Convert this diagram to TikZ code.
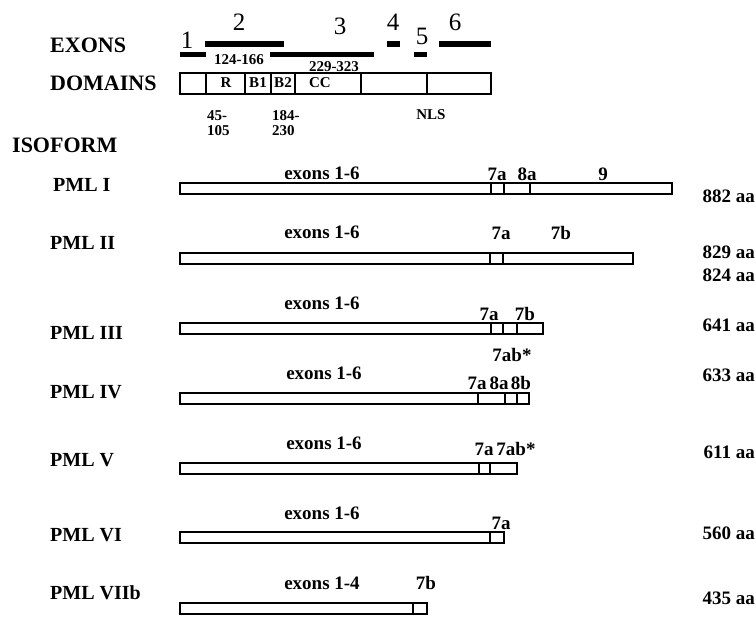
\documentclass[tikz,border=0pt]{standalone}
\usepackage{fontspec}
\setmainfont{Liberation Serif}
\newcommand{\isoformbar}[4]{% #1 name, #2 top y, #3 right x, #4 dividers
  \draw[isobox] (180,#2) rectangle (#3,#2+10.5);
  \coordinate (#1) at (180,#2);
  \foreach \d in {#4} {\draw[divider] (\d,#2) -- (\d,#2+10.5);}
}
\begin{document}
\begin{tikzpicture}[x=1pt,y=-1pt,
  lbl/.style={inner sep=0pt, font=\bfseries\fontsize{19}{19}\selectfont},
  rlbl/.style={lbl, anchor=east},
  head/.style={inner sep=0pt, anchor=west, font=\bfseries\fontsize{22}{22}\selectfont},
  pml/.style={inner sep=0pt, anchor=west, font=\bfseries\fontsize{20}{20}\selectfont},
  num/.style={inner sep=0pt, font=\fontsize{25}{25}\selectfont},
  small/.style={inner sep=0pt, font=\bfseries\fontsize{15}{15}\selectfont},
  exonbar/.style={line width=5.5pt},
  isobox/.style={draw, line width=2pt},
  divider/.style={line width=2.2pt},
  dombox/.style={draw, line width=2pt},
]
\useasboundingbox (0,0) rectangle (756,619);

% headings
\node[head] (exons) at (50,45) {EXONS};
\node[head] (domains) at (50,83) {DOMAINS};
\node[head] (isoform) at (12,145) {ISOFORM};

% exon bars
\draw[exonbar] (180,54.5) -- (206,54.5);
\draw[exonbar] (205,44) -- (284,44);
\draw[exonbar] (270,54.5) -- (374,54.5);
\draw[exonbar] (387,44) -- (400,44);
\draw[exonbar] (414,54.5) -- (427,54.5);
\draw[exonbar] (439,44) -- (491,44);
\node[num] (n1) at (187,40) {1};
\node[num] (n2) at (239,22) {2};
\node[num] (n3) at (340,26) {3};
\node[num] (n4) at (393,22) {4};
\node[num] (n5) at (422,36) {5};
\node[num] (n6) at (455,22) {6};

% domains
\draw[dombox] (180,73) rectangle (491,94);
\foreach \d in {206,245,271,295,361,427} {\draw[line width=1.8pt] (\d,73) -- (\d,94);}
\node[small] (dR) at (226,83) {R};
\node[small] (dB1) at (258,83) {B1};
\node[small] (dB2) at (283,83) {B2};
\node[small] (dCC) at (320,83) {CC};
\node[small] (r124) at (239,60) {124-166};
\node[small] (r229) at (334,67) {229-323};
\node[small, anchor=west] (r45) at (207,116) {45-};
\node[small, anchor=west] (r105) at (207,131) {105};
\node[small, anchor=west] (r184) at (272,116) {184-};
\node[small, anchor=west] (r230) at (272,131) {230};
\node[small] (nls) at (431,115) {NLS};

% PML I
\node[pml] (p1) at (53,185) {PML I};
\isoformbar{b1}{183}{672}{491,504,530}
\node[lbl] (e1) at (322,173) {exons 1-6};
\node[lbl] (x1a) at (497,174) {7a};
\node[lbl] (x1b) at (527,174) {8a};
\node[lbl] (x1c) at (603,174) {9};
\node[rlbl] (aa1) at (755,196) {882 aa};

% PML II
\node[pml] (p2) at (50,243) {PML II};
\isoformbar{b2}{253}{633}{490,503}
\node[lbl] (e2) at (322,232) {exons 1-6};
\node[lbl] (x2a) at (501,233) {7a};
\node[lbl] (x2b) at (561,233) {7b};
\node[rlbl] (aa2) at (755,252) {829 aa};
\node[rlbl] (aa2b) at (755,275) {824 aa};

% PML III
\node[pml] (p3) at (50,333) {PML III};
\isoformbar{b3}{323}{543}{491,503,517}
\node[lbl] (e3) at (322,303) {exons 1-6};
\node[lbl] (x3a) at (489,314) {7a};
\node[lbl] (x3b) at (525,314) {7b};
\node[lbl] (x3c) at (512,355) {7ab*};
\node[rlbl] (aa3) at (755,325) {641 aa};

% PML IV
\node[pml] (p4) at (50,392) {PML IV};
\isoformbar{b4}{393}{529}{478,505,517}
\node[lbl] (e4) at (324,373) {exons 1-6};
\node[lbl] (x4a) at (477,383) {7a};
\node[lbl] (x4b) at (499,383) {8a};
\node[lbl] (x4c) at (521,383) {8b};
\node[rlbl] (aa4) at (755,375) {633 aa};

% PML V
\node[pml] (p5) at (50,460) {PML V};
\isoformbar{b5}{463}{517}{479,490}
\node[lbl] (e5) at (324,443) {exons 1-6};
\node[lbl] (x5a) at (484,449) {7a};
\node[lbl] (x5b) at (516,449) {7ab*};
\node[rlbl] (aa5) at (755,452) {611 aa};

% PML VI
\node[pml] (p6) at (50,535) {PML VI};
\isoformbar{b6}{532}{504}{490}
\node[lbl] (e6) at (322,513) {exons 1-6};
\node[lbl] (x6a) at (501,523) {7a};
\node[rlbl] (aa6) at (755,533) {560 aa};

% PML VIIb
\node[pml] (p7) at (50,593) {PML VIIb};
\isoformbar{b7}{603}{427}{413}
\node[lbl] (e7) at (322,583) {exons 1-4};
\node[lbl] (x7a) at (426,583) {7b};
\node[rlbl] (aa7) at (755,598) {435 aa};
\end{tikzpicture}
\end{document}
